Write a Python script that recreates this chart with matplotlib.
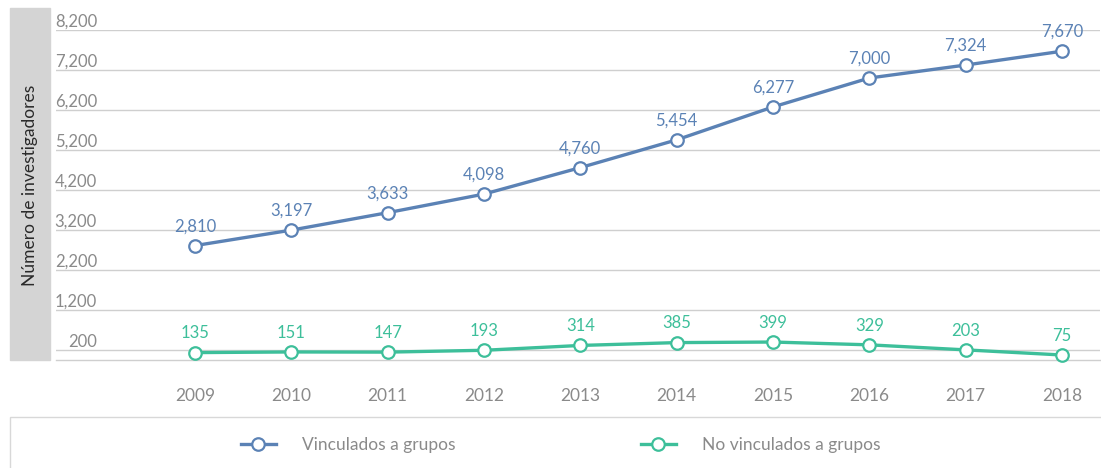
import matplotlib.pyplot as plt
from matplotlib.patches import Rectangle

plt.rcParams['font.family'] = ['Lato', 'DejaVu Sans']

years = [2009, 2010, 2011, 2012, 2013, 2014, 2015, 2016, 2017, 2018]
vinculados = [2810, 3197, 3633, 4098, 4760, 5454, 6277, 7000, 7324, 7670]
no_vinculados = [135, 151, 147, 193, 314, 385, 399, 329, 203, 75]
yticks = [200, 1200, 2200, 3200, 4200, 5200, 6200, 7200, 8200]

blue = '#5b82b5'
green = '#3dbf9a'
grey_txt = '#8a8a8a'
W, H = 1101, 468

fig = plt.figure(figsize=(W / 100, H / 100), dpi=100)
ax = fig.add_axes([56 / W, 1 - 360 / H, 1044 / W, 330 / H])

for t in yticks:
    ax.axhline(t, color='#cfcfcf', lw=1, zorder=0)
    ax.text((97 - 56) / 1044, t, f'{t:,}', transform=ax.get_yaxis_transform(),
            ha='right', va='bottom', fontsize=12, color=grey_txt)

l1, = ax.plot(years, vinculados, color=blue, lw=2.4, marker='o', ms=9,
              mfc='white', mec=blue, mew=1.6, label='Vinculados a grupos', clip_on=False, zorder=3)
l2, = ax.plot(years, no_vinculados, color=green, lw=2.4, marker='o', ms=9,
              mfc='white', mec=green, mew=1.6, label='No vinculados a grupos', clip_on=False, zorder=3)

for x, v in zip(years, vinculados):
    ax.annotate(f'{v:,}', (x, v), xytext=(0, 8), textcoords='offset points',
                ha='center', va='bottom', fontsize=12, color=blue)
for x, v in zip(years, no_vinculados):
    ax.annotate(f'{v:,}', (x, v), xytext=(0, 8), textcoords='offset points',
                ha='center', va='bottom', fontsize=12, color=green)

ax.set_xlim(2007.557, 2018.394)
ax.set_ylim(-50, 8200)
ax.set_xticks(years)
ax.set_xticklabels([str(y) for y in years], fontsize=12.5, color=grey_txt)
ax.tick_params(axis='x', length=0, pad=20)
ax.set_yticks([])
for s in ['top', 'right', 'left']:
    ax.spines[s].set_visible(False)
ax.spines['bottom'].set_color('#cfcfcf')
ax.spines['bottom'].set_linewidth(1)

# gray band with y label
fig.patches.append(Rectangle((10 / W, 1 - 360 / H), 40 / W, 352 / H,
                             transform=fig.transFigure, color='#d4d4d4', zorder=0))
fig.text(30 / W, 1 - 185 / H, 'Número de investigadores', rotation=90,
         ha='center', va='center', fontsize=12.5, color='#2a2a2a')

# legend box
fig.patches.append(Rectangle((10 / W, 0 - 0.01), 1.0, (468 - 417) / H + 0.01,
                             transform=fig.transFigure, facecolor='white',
                             edgecolor='#d8d8d8', lw=1, zorder=0))
fig.legend(handles=[l1, l2], loc='center left', bbox_to_anchor=(241 / W, 1 - 445 / H),
           ncol=2, frameon=False, fontsize=12.5, handlelength=2.0, handletextpad=1.5,
           columnspacing=10.7, borderpad=0, borderaxespad=0, labelcolor=grey_txt)

fig.savefig('out.png', dpi=100)
